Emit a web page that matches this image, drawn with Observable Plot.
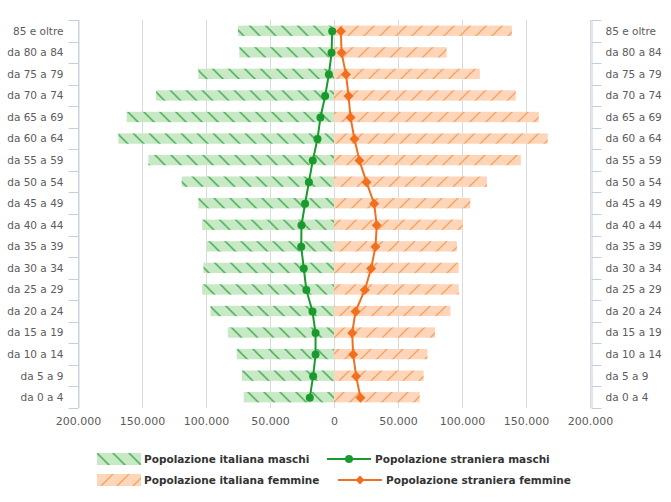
<!DOCTYPE html>
<html>
<head>
<meta charset="utf-8">
<script src="https://cdn.jsdelivr.net/npm/d3@7"></script>
<script src="https://cdn.jsdelivr.net/npm/@observablehq/plot@0.6"></script>
<style>
  body { margin: 0; background: #fff; font-family: "DejaVu Sans", Verdana, sans-serif; }
  #wrap { position: relative; width: 671px; height: 502px; }
  #chart { position: absolute; left: 0; top: 0; }
  .leg { position: absolute; display: flex; align-items: center; font: bold 10.5px "DejaVu Sans", sans-serif; color: #333; white-space: nowrap; }
  .leg svg { display: block; margin-right: 3px; }
</style>
</head>
<body>
<svg width="0" height="0" style="position:absolute">
  <defs>
    <pattern id="pat-m" patternUnits="userSpaceOnUse" width="16" height="16">
      <rect width="16" height="16" fill="#c7e9c5"></rect>
      <path d="M-4,-4L20,20M-4,12L4,20M12,-4L20,4" stroke="#5db466" stroke-width="1.6"></path>
    </pattern>
    <pattern id="pat-f" patternUnits="userSpaceOnUse" width="16" height="16">
      <rect width="16" height="16" fill="#fdd6ba"></rect>
      <path d="M-4,20L20,-4M-4,4L4,-4M12,20L20,12" stroke="#f2a367" stroke-width="1.4"></path>
    </pattern>
  </defs>
</svg>
<div id="wrap">
  <div id="chart"></div>
  <div class="leg" style="left:97px; top:453px;">
    <svg width="44" height="12"><rect width="44" height="12" fill="url(#pat-m)"></rect></svg>
    <span>Popolazione italiana maschi</span>
  </div>
  <div class="leg" style="left:97px; top:474px;">
    <svg width="44" height="12"><rect width="44" height="12" fill="url(#pat-f)"></rect></svg>
    <span>Popolazione italiana femmine</span>
  </div>
  <div class="leg" style="left:327px; top:453px;">
    <svg width="44" height="12" style="margin-right:4px"><line x1="0" x2="44" y1="6" y2="6" stroke="#1a9a2e" stroke-width="2"></line><circle cx="22" cy="6" r="4" fill="#1a9a2e"></circle></svg>
    <span>Popolazione straniera maschi</span>
  </div>
  <div class="leg" style="left:338px; top:474px;">
    <svg width="44" height="12" style="margin-right:4px"><line x1="0" x2="44" y1="6" y2="6" stroke="#f07020" stroke-width="2"></line><path d="M22,1.5L26.5,6L22,10.5L17.5,6Z" fill="#f07020"></path></svg>
    <span>Popolazione straniera femmine</span>
  </div>
</div>
<script>
const categories = ["85 e oltre","da 80 a 84","da 75 a 79","da 70 a 74","da 65 a 69","da 60 a 64","da 55 a 59","da 50 a 54","da 45 a 49","da 40 a 44","da 35 a 39","da 30 a 34","da 25 a 29","da 20 a 24","da 15 a 19","da 10 a 14","da 5 a 9","da 0 a 4"];
const italianiMaschi = [75000, 74000, 106000, 139000, 162000, 168500, 145000, 119000, 106000, 103000, 100000, 102000, 103000, 96500, 83000, 76000, 72000, 70500];
const italianeFemmine = [139000, 88000, 114000, 142000, 160000, 167000, 146000, 119500, 106500, 100500, 96000, 97500, 97500, 91000, 79000, 73000, 70000, 67000];
const stranieriMaschi = [1800, 2300, 4400, 7300, 11000, 13300, 17000, 20000, 23000, 25800, 26000, 24000, 22000, 17200, 14800, 14800, 16700, 19300];
const straniereFemmine = [5000, 5500, 9000, 11000, 12500, 15600, 19500, 25000, 31000, 33000, 32000, 28600, 23700, 16400, 13800, 14600, 16900, 20300];
const xTicks = [-200000, -150000, -100000, -50000, 0, 50000, 100000, 150000, 200000];

const data = categories.map((c, i) => ({
  cat: c,
  im: italianiMaschi[i],
  if: italianeFemmine[i],
  sm: stranieriMaschi[i],
  sf: straniereFemmine[i]
}));

const itLocale = d3.formatLocale({decimal: ",", thousands: ".", grouping: [3], currency: ["", "€"]});
const fmt = itLocale.format(",");

const chart = Plot.plot({
  width: 671,
  height: 440,
  marginLeft: 78,
  marginRight: 81,
  marginTop: 20,
  marginBottom: 32,
  style: {fontFamily: "DejaVu Sans, Verdana, sans-serif", fontSize: "11px", color: "#5c5c5c", background: "transparent"},
  x: {domain: [-200000, 200000], ticks: xTicks},
  y: {domain: categories, paddingInner: 0.52, paddingOuter: 0.26, round: false},
  marks: [
    Plot.gridX(xTicks, {stroke: "#dadada", strokeOpacity: 1}),
    Plot.barX(data, {x1: 0, x2: d => -d.im, y: "cat", fill: "url(#pat-m)"}),
    Plot.barX(data, {x1: 0, x2: d => d.if, y: "cat", fill: "url(#pat-f)"}),
    Plot.ruleX([-200000], {stroke: "#c0d0e0", dx: 0.5}),
    Plot.ruleX([200000], {stroke: "#c0d0e0", dx: 1.5}),
    Plot.line(data, {x: d => -d.sm, y: "cat", stroke: "#1a9a2e", strokeWidth: 2}),
    Plot.dot(data, {x: d => -d.sm, y: "cat", r: 4, fill: "#1a9a2e", stroke: null}),
    Plot.line(data, {x: d => d.sf, y: "cat", stroke: "#f07020", strokeWidth: 2}),
    Plot.dot(data, {x: d => d.sf, y: "cat", r: 4.5, symbol: "diamond2", fill: "#f07020", stroke: null}),
    Plot.axisX({ticks: xTicks, tickSize: 0, tickPadding: 9, tickFormat: d => fmt(Math.abs(d)), label: null}),
    Plot.axisY({anchor: "left", tickSize: 0, tickPadding: 15, label: null, fontSize: "10.5px"}),
    Plot.axisY({anchor: "right", tickSize: 0, tickPadding: 15, label: null, textAnchor: "start", fontSize: "10.5px"})
  ]
});

// band-boundary tick marks on both y axes, from the plot's own y scale
const ys = chart.scale("y");
const xs = chart.scale("x");
const gap = (ys.step - ys.bandwidth) / 2;
const bounds = categories.map(c => ys.apply(c) - gap);
bounds.push(ys.apply(categories[categories.length - 1]) + ys.bandwidth + gap);
const xl = xs.apply(-200000) + 0.5;
const xr = xs.apply(200000) + 1.5;
const g = d3.select(chart).append("g").attr("stroke", "#c0d0e0").attr("stroke-width", 1);
bounds.forEach(b => {
  const yy = Math.round(b) + 0.5;
  g.append("line").attr("x1", xl - 10).attr("x2", xl).attr("y1", yy).attr("y2", yy);
  g.append("line").attr("x1", xr).attr("x2", xr + 10).attr("y1", yy).attr("y2", yy);
});

document.getElementById("chart").appendChild(chart);
</script>
</body>
</html>
